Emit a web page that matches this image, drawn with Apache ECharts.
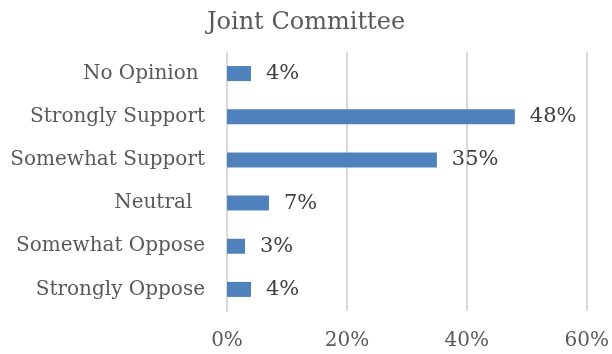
<!DOCTYPE html>
<html><head><meta charset="utf-8">
<script src="https://cdn.jsdelivr.net/npm/echarts@6/dist/echarts.min.js"></script>
<style>html,body{margin:0;padding:0;background:#fff}#c{width:612px;height:354px}</style>
</head><body><div id="c"></div>
<script>
const categories = ["Strongly Oppose", "Somewhat Oppose", "Neutral  ", "Somewhat Support", "Strongly Support", "No Opinion "];
const values = [4, 3, 7, 35, 48, 4];
const tickValues = [0, 20, 40, 60];
const FONT = "DejaVu Serif";
const chart = echarts.init(document.getElementById('c'));
chart.setOption({
  animation: false,
  title: { text: "Joint Committee", left: 'center', top: 6,
    textStyle: { fontFamily: FONT, fontSize: 24, fontWeight: 'normal', color: '#595959' } },
  grid: { left: 227, right: 25, top: 52, bottom: 43 },
  xAxis: { type: 'value', min: tickValues[0], max: tickValues[tickValues.length-1], interval: 20,
    axisLine: { show: false }, axisTick: { show: false },
    splitLine: { lineStyle: { color: '#d9d9d9', width: 2 } },
    axisLabel: { formatter: v => v + '%', fontFamily: FONT, fontSize: 20, color: '#595959', margin: 20 } },
  yAxis: { type: 'category', data: categories,
    axisLine: { lineStyle: { color: '#d9d9d9', width: 2 } }, axisTick: { show: false },
    axisLabel: { fontFamily: FONT, fontSize: 20, color: '#595959', margin: 22 } },
  series: [{ type: 'bar', data: values, barWidth: 15,
    itemStyle: { color: '#4f81bd' },
    label: { show: true, position: 'right', distance: 15, formatter: p => p.value + '%',
      fontFamily: FONT, fontSize: 21, color: '#404040' } }]
});
</script></body></html>
